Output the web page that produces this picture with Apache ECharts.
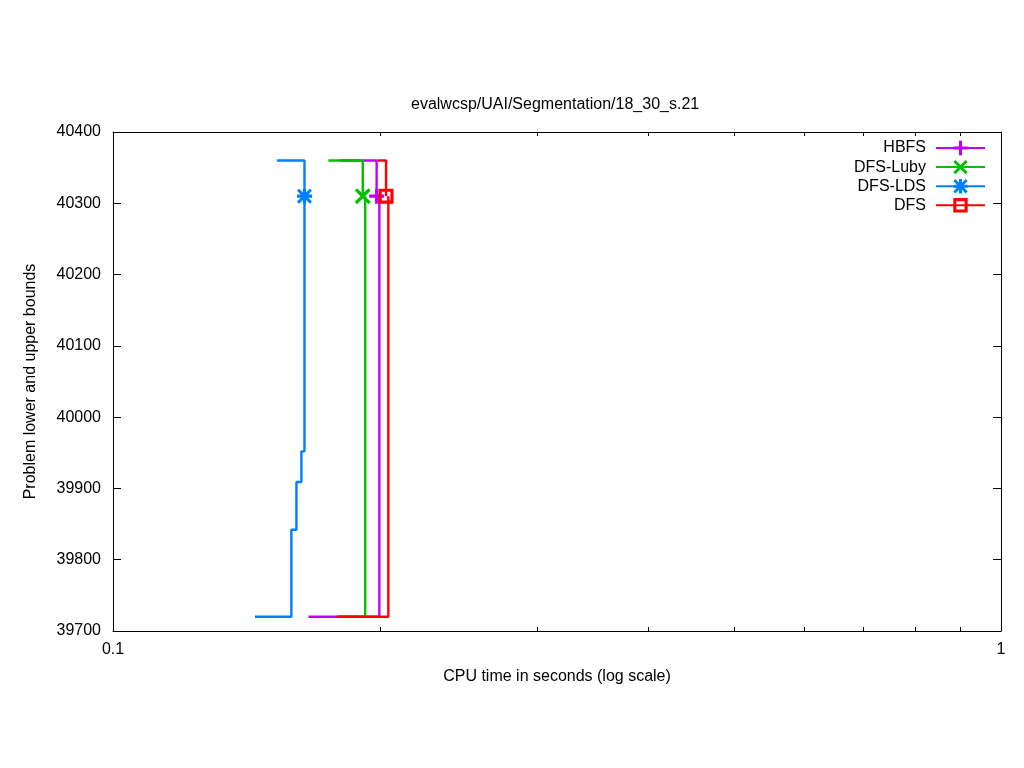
<!DOCTYPE html>
<html>
<head>
<meta charset="utf-8">
<script src="https://cdn.jsdelivr.net/npm/echarts@6/dist/echarts.min.js"></script>
<style>html,body{margin:0;padding:0;background:#fff}#c{width:1024px;height:768px}</style>
</head>
<body>
<div id="c"></div>
<script>
// ---- data ----
const solvers = ['HBFS', 'DFS-Luby', 'DFS-LDS', 'DFS'];
const colors = ['#c000ff', '#00c000', '#0080ff', '#ff0000'];
// upper bounds: [time, value] (last point carries the marker)
const hbfsUpper = [[0.1800, 40360], [0.1981, 40310]];
const hbfsLower = [[0.1660, 39720], [0.1995, 40310]];
const lubyUpper = [[0.1748, 40360], [0.1911, 40310]];
const lubyLower = [[0.1800, 39720], [0.1923, 40310]];
const ldsUpper = [[0.1530, 40360], [0.1643, 40310]];
const ldsLower = [[0.1445, 39720], [0.1588, 39842], [0.1609, 39909], [0.1630, 39952], [0.1643, 40310]];
const dfsUpper = [[0.1985, 40360], [0.2030, 40310]];
const dfsLower = [[0.1787, 39720], [0.2042, 40310]];
const xMin = 0.1, xMax = 1;
const yMin = 39700, yMax = 40400, yStep = 100;
const minorTicks = [0.2, 0.3, 0.4, 0.5, 0.6, 0.7, 0.8, 0.9];

const FONT = 'Liberation Sans, Arial, sans-serif';
const FS = 16;
const PLUS = 'M5.5,0L8.5,0L8.5,5.5L14,5.5L14,8.5L8.5,8.5L8.5,14L5.5,14L5.5,8.5L0,8.5L0,5.5L5.5,5.5Z';
const CROSS = 'M0,2L2,0L7,5L12,0L14,2L9,7L14,12L12,14L7,9L2,14L0,12L5,7Z';
const symbols = [
  'path://' + PLUS,
  'path://' + CROSS,
  'path://' + PLUS + ' ' + CROSS,
  'path://M0,0L14,0L14,14L0,14Z M3,3L3,11L11,11L11,3Z'
];
const symSizes = [15, 16, 15, 15];
const uppers = [hbfsUpper, lubyUpper, ldsUpper, dfsUpper];
const lowers = [hbfsLower, lubyLower, ldsLower, dfsLower];

function mk(name, i, data, marker) {
  return {
    name: name, type: 'line', step: 'end',
    xAxisIndex: 0, yAxisIndex: 0,
    symbol: symbols[i], symbolSize: symSizes[i], symbolKeepAspect: true,
    showSymbol: true, showAllSymbol: true,
    lineStyle: {color: colors[i], width: 2.4},
    itemStyle: {color: colors[i]},
    data: data.map((p, k) => (marker && k === data.length - 1) ? {value: p} : {value: p, symbol: 'none'}),
    silent: true, animation: false
  };
}

const series = [];
solvers.forEach((s, i) => {
  series.push(mk(s, i, lowers[i], false));
  series.push(mk(s, i, uppers[i], true));
});
series.push({
  type: 'custom', xAxisIndex: 0, yAxisIndex: 0, silent: true, animation: false,
  data: minorTicks.map(v => [v, yMin]),
  renderItem: function (params, api) {
    const b = api.coord([api.value(0), yMin]);
    const t = api.coord([api.value(0), yMax]);
    const st = {stroke: '#000', lineWidth: 1};
    return {type: 'group', children: [
      {type: 'line', shape: {x1: Math.round(b[0]) + 0.5, y1: b[1], x2: Math.round(b[0]) + 0.5, y2: b[1] - 4}, style: st},
      {type: 'line', shape: {x1: Math.round(t[0]) + 0.5, y1: t[1], x2: Math.round(t[0]) + 0.5, y2: t[1] + 4}, style: st}
    ]};
  }
});

const axisCommon = {
  axisLine: {show: true, onZero: false, lineStyle: {color: '#000', width: 1}},
  axisTick: {show: true, inside: true, length: 8, lineStyle: {color: '#000'}},
  splitLine: {show: false}
};

const option = {
  animation: false,
  backgroundColor: '#fff',
  title: {
    text: 'evalwcsp/UAI/Segmentation/18_30_s.21',
    left: 406, top: 92,
    textStyle: {fontFamily: FONT, fontSize: FS, fontWeight: 'normal', color: '#000'}
  },
  grid: {left: 113, right: 23, top: 132, bottom: 137, containLabel: false},
  legend: {
    data: solvers, orient: 'vertical', right: 33, top: 135, align: 'right',
    itemWidth: 49, itemHeight: 18, itemGap: 3.1,
    textStyle: {fontFamily: FONT, fontSize: FS, color: '#000', padding: [0, 5, 0, 0]},
    selectedMode: false
  },
  xAxis: [
    Object.assign({}, axisCommon, {
      type: 'log', logBase: 10, min: xMin, max: xMax, position: 'bottom',
      name: 'CPU time in seconds (log scale)', nameLocation: 'middle', nameGap: 38,
      nameTextStyle: {fontFamily: FONT, fontSize: FS, color: '#000'},
      axisLabel: {fontFamily: FONT, fontSize: FS, color: '#000', margin: 11,
        formatter: v => (Math.abs(v - 0.1) < 1e-9 ? '0.1' : String(Math.round(v * 1000) / 1000))}
    }),
    Object.assign({}, axisCommon, {
      type: 'log', logBase: 10, min: xMin, max: xMax, position: 'top',
      axisLabel: {show: false}
    })
  ],
  yAxis: [
    Object.assign({}, axisCommon, {
      type: 'value', min: yMin, max: yMax, interval: yStep, position: 'left',
      name: 'Problem lower and upper bounds', nameLocation: 'middle', nameGap: 74,
      nameTextStyle: {fontFamily: FONT, fontSize: FS, color: '#000'},
      axisLabel: {fontFamily: FONT, fontSize: FS, color: '#000', margin: 12, formatter: v => String(v)}
    }),
    Object.assign({}, axisCommon, {
      type: 'value', min: yMin, max: yMax, interval: yStep, position: 'right',
      axisLabel: {show: false}
    })
  ],
  series: series
};

const chart = echarts.init(document.getElementById('c'), null, {renderer: 'canvas'});
chart.setOption(option);
</script>
</body>
</html>
